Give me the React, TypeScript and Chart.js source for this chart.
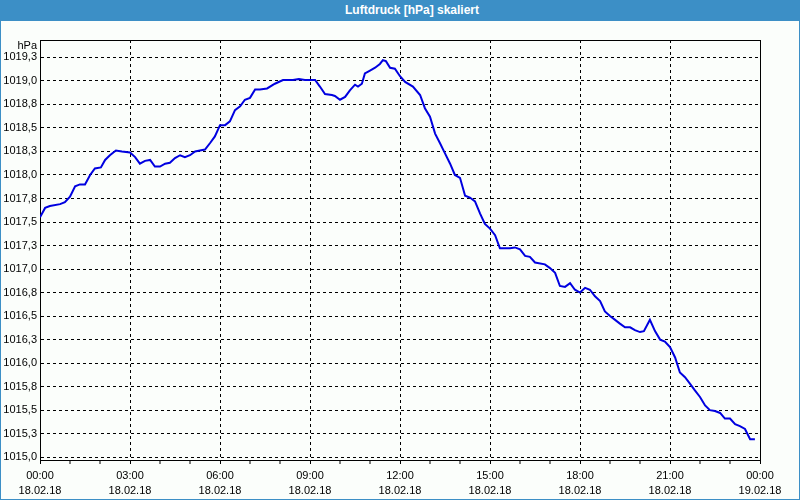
import React, { useEffect, useRef } from "react";
import { Chart, registerables } from "chart.js";

Chart.register(...registerables);

const TITLE = "Luftdruck [hPa] skaliert";
const Y_UNIT = "hPa";

// time of day in hours since 18.02.18 00:00
const hours = [
  0.0, 0.17, 0.33, 0.67, 0.83, 1.0, 1.17, 1.33, 1.5, 1.67, 1.83, 2.03, 2.17, 2.33, 2.53, 2.73,
  3.0, 3.17, 3.33, 3.5, 3.67, 3.83, 4.0, 4.17, 4.33, 4.5, 4.67, 4.83, 5.0, 5.17, 5.33, 5.5,
  5.67, 5.83, 6.0, 6.17, 6.33, 6.5, 6.67, 6.83, 7.0, 7.17, 7.33, 7.57, 7.83, 8.1, 8.43, 8.63,
  8.83, 9.17, 9.33, 9.5, 9.73, 9.83, 10.0, 10.17, 10.33, 10.5, 10.6, 10.73, 10.83, 11.0, 11.17,
  11.33, 11.43, 11.53, 11.67, 11.83, 12.0, 12.17, 12.43, 12.67, 12.83, 13.0, 13.17, 13.33, 13.5,
  13.67, 13.83, 14.0, 14.17, 14.33, 14.5, 14.67, 14.83, 15.0, 15.17, 15.33, 15.67, 15.83, 16.0,
  16.17, 16.33, 16.5, 16.83, 17.0, 17.17, 17.33, 17.5, 17.67, 17.83, 18.0, 18.17, 18.33, 18.5,
  18.67, 18.83, 19.0, 19.17, 19.33, 19.5, 19.67, 19.83, 20.0, 20.13, 20.33, 20.5, 20.67, 20.83,
  21.0, 21.17, 21.33, 21.5, 21.67, 21.83, 22.0, 22.17, 22.33, 22.5, 22.67, 22.83, 23.0, 23.17,
  23.33, 23.5, 23.67, 23.83,
];

const pressure = [
  1017.55, 1017.65, 1017.67, 1017.69, 1017.71, 1017.77, 1017.88, 1017.9, 1017.9, 1018.0, 1018.07,
  1018.08, 1018.16, 1018.21, 1018.26, 1018.25, 1018.24, 1018.19, 1018.12, 1018.15, 1018.16,
  1018.09, 1018.09, 1018.12, 1018.13, 1018.18, 1018.21, 1018.19, 1018.21, 1018.25, 1018.26,
  1018.27, 1018.34, 1018.41, 1018.53, 1018.53, 1018.57, 1018.69, 1018.73, 1018.8, 1018.82,
  1018.91, 1018.91, 1018.92, 1018.97, 1019.01, 1019.01, 1019.02, 1019.01, 1019.01, 1018.94,
  1018.86, 1018.85, 1018.84, 1018.8, 1018.83, 1018.9, 1018.96, 1018.94, 1018.97, 1019.08,
  1019.11, 1019.14, 1019.18, 1019.22, 1019.21, 1019.14, 1019.13, 1019.05, 1018.99, 1018.94,
  1018.85, 1018.71, 1018.62, 1018.44, 1018.34, 1018.23, 1018.12, 1018.0, 1017.97, 1017.78,
  1017.76, 1017.72, 1017.59, 1017.48, 1017.43, 1017.36, 1017.22, 1017.22, 1017.23, 1017.21,
  1017.14, 1017.13, 1017.07, 1017.05, 1017.01, 1016.96, 1016.82, 1016.81, 1016.85, 1016.78,
  1016.75, 1016.8, 1016.78, 1016.71, 1016.66, 1016.55, 1016.5, 1016.46, 1016.42, 1016.38,
  1016.38, 1016.35, 1016.33, 1016.34, 1016.46, 1016.34, 1016.25, 1016.23, 1016.17, 1016.06,
  1015.9, 1015.85, 1015.78, 1015.71, 1015.64, 1015.55, 1015.5, 1015.49, 1015.47, 1015.41,
  1015.41, 1015.35, 1015.33, 1015.3, 1015.19, 1015.19,
];

const xTickHours = [0, 3, 6, 9, 12, 15, 18, 21, 24];
const xTimeLabels = ["00:00", "03:00", "06:00", "09:00", "12:00", "15:00", "18:00", "21:00", "00:00"];
const xDateLabels = [
  "18.02.18", "18.02.18", "18.02.18", "18.02.18", "18.02.18",
  "18.02.18", "18.02.18", "18.02.18", "19.02.18",
];
const yTicks = [
  1015.0, 1015.25, 1015.5, 1015.75, 1016.0, 1016.25, 1016.5, 1016.75, 1017.0,
  1017.25, 1017.5, 1017.75, 1018.0, 1018.25, 1018.5, 1018.75, 1019.0, 1019.25,
];

const FONT = "'Liberation Sans', Arial, sans-serif";
const BLUE_BAR = "#3c8fc6";
const BG = "#fbfefb";

export default function App() {
  const canvasRef = useRef<HTMLCanvasElement | null>(null);

  useEffect(() => {
    const canvas = canvasRef.current;
    if (!canvas) return;

    const framePlugin = {
      id: "frame",
      beforeDatasetsDraw(chart: any) {
        const { ctx, chartArea } = chart;
        ctx.save();
        ctx.strokeStyle = "#000";
        ctx.lineWidth = 1;
        ctx.setLineDash([]);
        ctx.strokeRect(
          Math.round(chartArea.left) + 0.5,
          Math.round(chartArea.top) + 0.5,
          Math.round(chartArea.right - chartArea.left),
          Math.round(chartArea.bottom - chartArea.top)
        );
        ctx.restore();
      },
      afterDraw(chart: any) {
        const { ctx, chartArea } = chart;
        ctx.save();
        ctx.fillStyle = "#000";
        ctx.font = `11px ${FONT}`;
        ctx.textAlign = "right";
        ctx.textBaseline = "middle";
        ctx.fillText(Y_UNIT, chartArea.left - 3, chartArea.top + 6);
        ctx.restore();
      },
    };

    const chart = new Chart(canvas, {
      type: "line",
      data: {
        datasets: [
          {
            data: hours.map((h, i) => ({ x: h, y: pressure[i] })),
            borderColor: "#0000e0",
            borderWidth: 2,
            pointRadius: 0,
            tension: 0,
            fill: false,
          },
        ],
      },
      options: {
        animation: false,
        responsive: false,
        devicePixelRatio: 1,
        layout: { padding: { left: 0, right: 39, top: 19, bottom: 0 } },
        plugins: {
          legend: { display: false },
          tooltip: { enabled: false },
          title: { display: false },
        },
        scales: {
          x: {
            type: "linear",
            min: 0,
            max: 24,
            afterFit: (scale: any) => {
              scale.height = 39;
            },
            ticks: {
              stepSize: 1,
              autoSkip: false,
              maxRotation: 0,
              minRotation: 0,
              padding: 4,
              color: "#000",
              font: { family: FONT, size: 11, lineHeight: "15px" } as any,
              callback: (v: any) => {
                const i = xTickHours.indexOf(Number(v));
                return i >= 0 ? [xTimeLabels[i], xDateLabels[i]] : "";
              },
            },
            grid: {
              color: "#000",
              lineWidth: (ctx: any) => (ctx.tick && ctx.tick.value % 3 === 0 ? 1 : 0),
              tickWidth: 1,
              tickColor: "#000",
              tickLength: 4,
              drawTicks: true,
            } as any,
            border: { color: "#000", width: 1, dash: [3, 3] },
          },
          y: {
            type: "linear",
            min: 1014.97,
            max: 1019.435,
            afterFit: (scale: any) => {
              scale.width = 39;
            },
            afterBuildTicks: (scale: any) => {
              scale.ticks = yTicks.map((v) => ({ value: v }));
            },
            ticks: {
              padding: 3,
              color: "#000",
              font: { family: FONT, size: 11 },
              callback: (v: any) => Number(v).toFixed(1).replace(".", ","),
            },
            grid: {
              color: "#000",
              lineWidth: 1,
              drawTicks: false,
            },
            border: { color: "#000", width: 1, dash: [3, 3] },
          },
        },
      },
      plugins: [framePlugin],
    } as any);

    return () => {
      chart.destroy();
    };
  }, []);

  return (
    <div
      style={{
        position: "absolute",
        left: 0,
        top: 0,
        width: 800,
        height: 500,
        boxSizing: "border-box",
        border: `1px solid ${BLUE_BAR}`,
        background: BG,
        overflow: "hidden",
      }}
    >
      <div
        style={{
          position: "absolute",
          left: -1,
          top: -1,
          width: 800,
          height: 21,
          background: BLUE_BAR,
        }}
      >
        <span
          style={{
            position: "absolute",
            left: 412,
            top: 0,
            transform: "translateX(-50%)",
            color: "#fff",
            fontFamily: FONT,
            fontWeight: "bold",
            fontSize: 12,
            lineHeight: "21px",
            whiteSpace: "nowrap",
          }}
        >
          {TITLE}
        </span>
      </div>
      <canvas
        ref={canvasRef}
        width={798}
        height={478}
        style={{ position: "absolute", left: 0, top: 20, display: "block", width: 798, height: 478 }}
      />
    </div>
  );
}
